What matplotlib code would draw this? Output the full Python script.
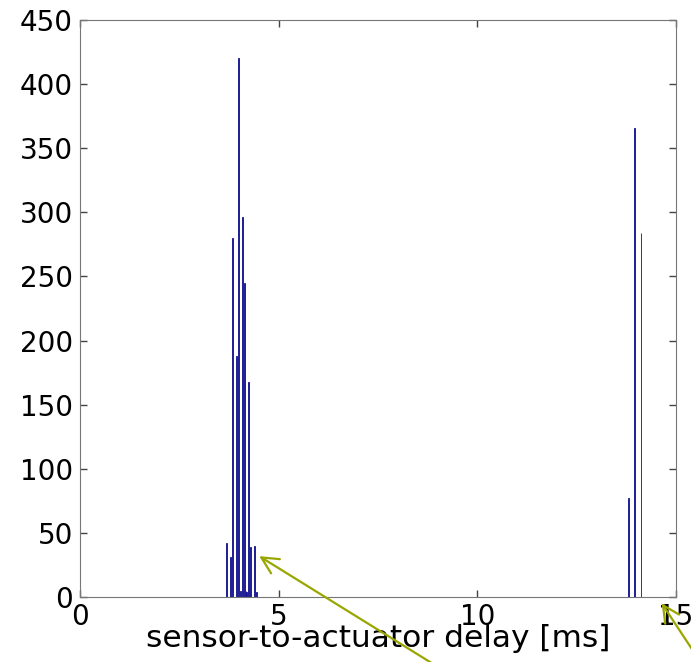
import matplotlib
matplotlib.use('Agg')
import matplotlib.pyplot as plt

plt.rcParams['font.family'] = ['DejaVu Sans']

# histogram bins (delay in ms, counts)
delay_ms = [3.69, 3.79, 3.83, 3.94, 3.99, 4.04, 4.08, 4.13, 4.18, 4.20, 4.25, 4.29, 4.39, 4.44,
            13.81, 13.96, 14.12]
counts = [42, 31, 280, 188, 420, 5, 296, 245, 5, 4, 168, 39, 40, 4,
          77, 366, 284]
xticks = [0, 5, 10, 15]
yticks = list(range(0, 451, 50))

fig = plt.figure(figsize=(6.91, 6.62), dpi=100)
ax = fig.add_axes([0.1158, 0.0982, 0.8625, 0.8716])

ax.bar(delay_ms, counts, width=0.02, color='#10108f', edgecolor='#10108f', linewidth=0.6)

ax.set_xlim(0, 15)
ax.set_ylim(0, 450)
ax.set_xticks(xticks)
ax.set_yticks(yticks)
ax.tick_params(direction='in', length=5, width=1, colors='#444444', top=True, right=True,
               labelsize=20, labelcolor='black')
ax.tick_params(axis='x', pad=4)
ax.tick_params(axis='y', pad=5)
for s in ax.spines.values():
    s.set_color('#777777')
ax.set_xlabel('sensor-to-actuator delay [ms]', fontsize=22.5, labelpad=-5)

# olive arrows pointing at the axis
arrow = dict(arrowstyle='->', color='#9aa600', lw=1.6, mutation_scale=30)
ax.annotate('', xy=(4.45, 33), xycoords='data', xytext=(0.63, -0.005),
            textcoords='figure fraction', arrowprops=arrow, annotation_clip=False)
ax.annotate('', xy=(14.6, -3), xycoords='data', xytext=(1.02, -0.01),
            textcoords='figure fraction', arrowprops=arrow, annotation_clip=False)

plt.savefig('out.png', dpi=100)
